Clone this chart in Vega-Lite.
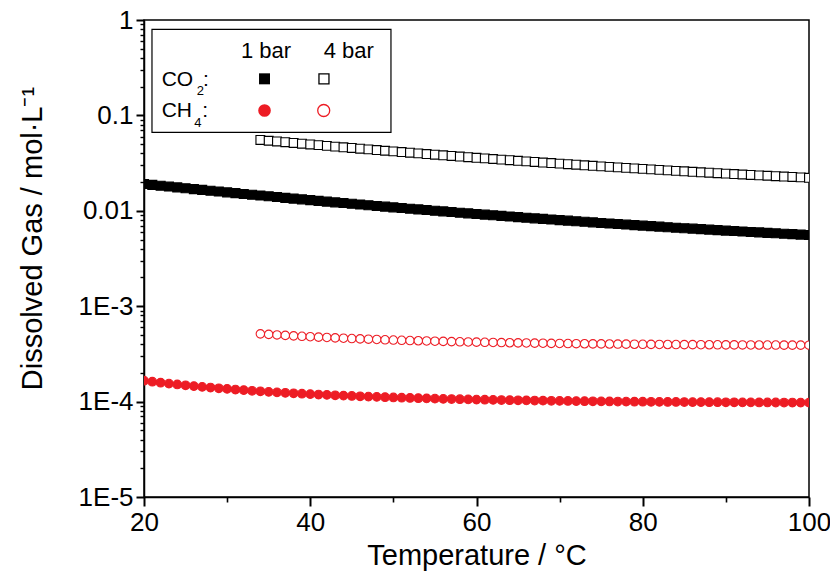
{
  "$schema": "https://vega.github.io/schema/vega-lite/v6.json",
  "width": 665,
  "height": 477,
  "autosize": {"type": "none"},
  "padding": {"left": 144, "top": 20, "right": 21, "bottom": 77},
  "background": "white",
  "config": {
    "font": "Liberation Sans",
    "view": {"stroke": "black", "strokeWidth": 1.5},
    "axis": {
      "grid": false,
      "domainColor": "black",
      "domainWidth": 1.5,
      "labelColor": "black",
      "labelFont": "Liberation Sans",
      "labelFontSize": 26,
      "labelOverlap": false,
      "labelFlush": false,
      "titleColor": "black",
      "titleFont": "Liberation Sans",
      "titleFontSize": 29,
      "titleFontWeight": "normal"
    }
  },
  "resolve": {"axis": {"x": "independent", "y": "independent"}},
  "datasets": {
    "solubility": [
      {"T": 20, "CO2_1bar": 0.01910, "CH4_1bar": 1.656e-4},
      {"T": 21, "CO2_1bar": 0.01870, "CH4_1bar": 1.616e-4},
      {"T": 22, "CO2_1bar": 0.01832, "CH4_1bar": 1.579e-4},
      {"T": 23, "CO2_1bar": 0.01795, "CH4_1bar": 1.545e-4},
      {"T": 24, "CO2_1bar": 0.01759, "CH4_1bar": 1.513e-4},
      {"T": 25, "CO2_1bar": 0.01724, "CH4_1bar": 1.483e-4},
      {"T": 26, "CO2_1bar": 0.01689, "CH4_1bar": 1.454e-4},
      {"T": 27, "CO2_1bar": 0.01656, "CH4_1bar": 1.428e-4},
      {"T": 28, "CO2_1bar": 0.01624, "CH4_1bar": 1.403e-4},
      {"T": 29, "CO2_1bar": 0.01592, "CH4_1bar": 1.380e-4},
      {"T": 30, "CO2_1bar": 0.01561, "CH4_1bar": 1.358e-4},
      {"T": 31, "CO2_1bar": 0.01531, "CH4_1bar": 1.337e-4},
      {"T": 32, "CO2_1bar": 0.01502, "CH4_1bar": 1.318e-4},
      {"T": 33, "CO2_1bar": 0.01474, "CH4_1bar": 1.299e-4},
      {"T": 34, "CO2_1bar": 0.01446, "CH4_1bar": 1.282e-4, "CO2_4bar": 0.05524, "CH4_4bar": 5.128e-4},
      {"T": 35, "CO2_1bar": 0.01419, "CH4_1bar": 1.266e-4, "CO2_4bar": 0.05424, "CH4_4bar": 5.064e-4},
      {"T": 36, "CO2_1bar": 0.01393, "CH4_1bar": 1.250e-4, "CO2_4bar": 0.05328, "CH4_4bar": 5.000e-4},
      {"T": 37, "CO2_1bar": 0.01367, "CH4_1bar": 1.236e-4, "CO2_4bar": 0.05232, "CH4_4bar": 4.944e-4},
      {"T": 38, "CO2_1bar": 0.01342, "CH4_1bar": 1.222e-4, "CO2_4bar": 0.05140, "CH4_4bar": 4.888e-4},
      {"T": 39, "CO2_1bar": 0.01318, "CH4_1bar": 1.209e-4, "CO2_4bar": 0.05051, "CH4_4bar": 4.836e-4},
      {"T": 40, "CO2_1bar": 0.01294, "CH4_1bar": 1.197e-4, "CO2_4bar": 0.04962, "CH4_4bar": 4.788e-4},
      {"T": 41, "CO2_1bar": 0.01271, "CH4_1bar": 1.185e-4, "CO2_4bar": 0.04877, "CH4_4bar": 4.740e-4},
      {"T": 42, "CO2_1bar": 0.01248, "CH4_1bar": 1.175e-4, "CO2_4bar": 0.04791, "CH4_4bar": 4.700e-4},
      {"T": 43, "CO2_1bar": 0.01226, "CH4_1bar": 1.164e-4, "CO2_4bar": 0.04710, "CH4_4bar": 4.656e-4},
      {"T": 44, "CO2_1bar": 0.01205, "CH4_1bar": 1.154e-4, "CO2_4bar": 0.04632, "CH4_4bar": 4.616e-4},
      {"T": 45, "CO2_1bar": 0.01184, "CH4_1bar": 1.145e-4, "CO2_4bar": 0.04555, "CH4_4bar": 4.580e-4},
      {"T": 46, "CO2_1bar": 0.01164, "CH4_1bar": 1.136e-4, "CO2_4bar": 0.04480, "CH4_4bar": 4.544e-4},
      {"T": 47, "CO2_1bar": 0.01144, "CH4_1bar": 1.128e-4, "CO2_4bar": 0.04407, "CH4_4bar": 4.512e-4},
      {"T": 48, "CO2_1bar": 0.01124, "CH4_1bar": 1.120e-4, "CO2_4bar": 0.04332, "CH4_4bar": 4.480e-4},
      {"T": 49, "CO2_1bar": 0.01105, "CH4_1bar": 1.112e-4, "CO2_4bar": 0.04261, "CH4_4bar": 4.448e-4},
      {"T": 50, "CO2_1bar": 0.01087, "CH4_1bar": 1.105e-4, "CO2_4bar": 0.04195, "CH4_4bar": 4.420e-4},
      {"T": 51, "CO2_1bar": 0.01069, "CH4_1bar": 1.098e-4, "CO2_4bar": 0.04127, "CH4_4bar": 4.392e-4},
      {"T": 52, "CO2_1bar": 0.01052, "CH4_1bar": 1.092e-4, "CO2_4bar": 0.04065, "CH4_4bar": 4.368e-4},
      {"T": 53, "CO2_1bar": 0.01034, "CH4_1bar": 1.086e-4, "CO2_4bar": 0.03997, "CH4_4bar": 4.344e-4},
      {"T": 54, "CO2_1bar": 0.01018, "CH4_1bar": 1.080e-4, "CO2_4bar": 0.03938, "CH4_4bar": 4.320e-4},
      {"T": 55, "CO2_1bar": 0.01001, "CH4_1bar": 1.074e-4, "CO2_4bar": 0.03875, "CH4_4bar": 4.296e-4},
      {"T": 56, "CO2_1bar": 0.009855, "CH4_1bar": 1.069e-4, "CO2_4bar": 0.03817, "CH4_4bar": 4.276e-4},
      {"T": 57, "CO2_1bar": 0.009700, "CH4_1bar": 1.064e-4, "CO2_4bar": 0.03760, "CH4_4bar": 4.256e-4},
      {"T": 58, "CO2_1bar": 0.009549, "CH4_1bar": 1.059e-4, "CO2_4bar": 0.03703, "CH4_4bar": 4.236e-4},
      {"T": 59, "CO2_1bar": 0.009401, "CH4_1bar": 1.055e-4, "CO2_4bar": 0.03649, "CH4_4bar": 4.220e-4},
      {"T": 60, "CO2_1bar": 0.009257, "CH4_1bar": 1.050e-4, "CO2_4bar": 0.03595, "CH4_4bar": 4.200e-4},
      {"T": 61, "CO2_1bar": 0.009116, "CH4_1bar": 1.046e-4, "CO2_4bar": 0.03542, "CH4_4bar": 4.184e-4},
      {"T": 62, "CO2_1bar": 0.008979, "CH4_1bar": 1.042e-4, "CO2_4bar": 0.03491, "CH4_4bar": 4.168e-4},
      {"T": 63, "CO2_1bar": 0.008845, "CH4_1bar": 1.039e-4, "CO2_4bar": 0.03441, "CH4_4bar": 4.156e-4},
      {"T": 64, "CO2_1bar": 0.008714, "CH4_1bar": 1.035e-4, "CO2_4bar": 0.03392, "CH4_4bar": 4.140e-4},
      {"T": 65, "CO2_1bar": 0.008586, "CH4_1bar": 1.032e-4, "CO2_4bar": 0.03344, "CH4_4bar": 4.128e-4},
      {"T": 66, "CO2_1bar": 0.008461, "CH4_1bar": 1.029e-4, "CO2_4bar": 0.03298, "CH4_4bar": 4.116e-4},
      {"T": 67, "CO2_1bar": 0.008339, "CH4_1bar": 1.026e-4, "CO2_4bar": 0.03252, "CH4_4bar": 4.104e-4},
      {"T": 68, "CO2_1bar": 0.008220, "CH4_1bar": 1.023e-4, "CO2_4bar": 0.03207, "CH4_4bar": 4.092e-4},
      {"T": 69, "CO2_1bar": 0.008104, "CH4_1bar": 1.020e-4, "CO2_4bar": 0.03165, "CH4_4bar": 4.080e-4},
      {"T": 70, "CO2_1bar": 0.007991, "CH4_1bar": 1.017e-4, "CO2_4bar": 0.03122, "CH4_4bar": 4.068e-4},
      {"T": 71, "CO2_1bar": 0.007880, "CH4_1bar": 1.015e-4, "CO2_4bar": 0.03081, "CH4_4bar": 4.060e-4},
      {"T": 72, "CO2_1bar": 0.007772, "CH4_1bar": 1.012e-4, "CO2_4bar": 0.03040, "CH4_4bar": 4.048e-4},
      {"T": 73, "CO2_1bar": 0.007666, "CH4_1bar": 1.010e-4, "CO2_4bar": 0.03001, "CH4_4bar": 4.040e-4},
      {"T": 74, "CO2_1bar": 0.007563, "CH4_1bar": 1.008e-4, "CO2_4bar": 0.02962, "CH4_4bar": 4.032e-4},
      {"T": 75, "CO2_1bar": 0.007462, "CH4_1bar": 1.006e-4, "CO2_4bar": 0.02924, "CH4_4bar": 4.024e-4},
      {"T": 76, "CO2_1bar": 0.007364, "CH4_1bar": 1.004e-4, "CO2_4bar": 0.02888, "CH4_4bar": 4.016e-4},
      {"T": 77, "CO2_1bar": 0.007267, "CH4_1bar": 1.002e-4, "CO2_4bar": 0.02852, "CH4_4bar": 4.008e-4},
      {"T": 78, "CO2_1bar": 0.007173, "CH4_1bar": 1.000e-4, "CO2_4bar": 0.02817, "CH4_4bar": 4.000e-4},
      {"T": 79, "CO2_1bar": 0.007082, "CH4_1bar": 9.982e-5, "CO2_4bar": 0.02783, "CH4_4bar": 3.993e-4},
      {"T": 80, "CO2_1bar": 0.006992, "CH4_1bar": 9.966e-5, "CO2_4bar": 0.02749, "CH4_4bar": 3.986e-4},
      {"T": 81, "CO2_1bar": 0.006904, "CH4_1bar": 9.950e-5, "CO2_4bar": 0.02716, "CH4_4bar": 3.980e-4},
      {"T": 82, "CO2_1bar": 0.006819, "CH4_1bar": 9.935e-5, "CO2_4bar": 0.02684, "CH4_4bar": 3.974e-4},
      {"T": 83, "CO2_1bar": 0.006735, "CH4_1bar": 9.921e-5, "CO2_4bar": 0.02653, "CH4_4bar": 3.968e-4},
      {"T": 84, "CO2_1bar": 0.006654, "CH4_1bar": 9.907e-5, "CO2_4bar": 0.02622, "CH4_4bar": 3.963e-4},
      {"T": 85, "CO2_1bar": 0.006574, "CH4_1bar": 9.894e-5, "CO2_4bar": 0.02593, "CH4_4bar": 3.958e-4},
      {"T": 86, "CO2_1bar": 0.006496, "CH4_1bar": 9.882e-5, "CO2_4bar": 0.02563, "CH4_4bar": 3.953e-4},
      {"T": 87, "CO2_1bar": 0.006420, "CH4_1bar": 9.870e-5, "CO2_4bar": 0.02535, "CH4_4bar": 3.948e-4},
      {"T": 88, "CO2_1bar": 0.006345, "CH4_1bar": 9.859e-5, "CO2_4bar": 0.02507, "CH4_4bar": 3.944e-4},
      {"T": 89, "CO2_1bar": 0.006273, "CH4_1bar": 9.848e-5, "CO2_4bar": 0.02480, "CH4_4bar": 3.939e-4},
      {"T": 90, "CO2_1bar": 0.006202, "CH4_1bar": 9.837e-5, "CO2_4bar": 0.02453, "CH4_4bar": 3.935e-4},
      {"T": 91, "CO2_1bar": 0.006132, "CH4_1bar": 9.828e-5, "CO2_4bar": 0.02427, "CH4_4bar": 3.931e-4},
      {"T": 92, "CO2_1bar": 0.006065, "CH4_1bar": 9.818e-5, "CO2_4bar": 0.02402, "CH4_4bar": 3.927e-4},
      {"T": 93, "CO2_1bar": 0.005998, "CH4_1bar": 9.809e-5, "CO2_4bar": 0.02377, "CH4_4bar": 3.924e-4},
      {"T": 94, "CO2_1bar": 0.005934, "CH4_1bar": 9.801e-5, "CO2_4bar": 0.02353, "CH4_4bar": 3.920e-4},
      {"T": 95, "CO2_1bar": 0.005871, "CH4_1bar": 9.792e-5, "CO2_4bar": 0.02330, "CH4_4bar": 3.917e-4},
      {"T": 96, "CO2_1bar": 0.005809, "CH4_1bar": 9.785e-5, "CO2_4bar": 0.02306, "CH4_4bar": 3.914e-4},
      {"T": 97, "CO2_1bar": 0.005749, "CH4_1bar": 9.777e-5, "CO2_4bar": 0.02284, "CH4_4bar": 3.911e-4},
      {"T": 98, "CO2_1bar": 0.005690, "CH4_1bar": 9.770e-5, "CO2_4bar": 0.02262, "CH4_4bar": 3.908e-4},
      {"T": 99, "CO2_1bar": 0.005632, "CH4_1bar": 9.763e-5, "CO2_4bar": 0.02240, "CH4_4bar": 3.905e-4},
      {"T": 100, "CO2_1bar": 0.005576, "CH4_1bar": 9.757e-5, "CO2_4bar": 0.02219, "CH4_4bar": 3.903e-4}
    ],
    "anchor": [{}]
  },
  "layer": [
    {
      "data": {"name": "solubility"},
      "transform": [
        {"fold": ["CO2_1bar", "CO2_4bar", "CH4_1bar", "CH4_4bar"], "as": ["series", "conc"]},
        {"filter": "isValid(datum.conc)"}
      ],
      "mark": {"type": "point", "opacity": 1, "strokeWidth": 1.1, "clip": true},
      "encoding": {
        "x": {
          "field": "T",
          "type": "quantitative",
          "scale": {"domain": [20, 100], "nice": false, "zero": false},
          "axis": {
            "orient": "bottom",
            "title": "Temperature / °C",
            "values": [20, 40, 60, 80, 100],
            "ticks": true,
            "tickColor": "#000000",
            "tickWidth": 2,
            "tickSize": 9,
            "labelPadding": 3,
            "titleBaseline": "alphabetic",
            "titleY": 67
          }
        },
        "y": {
          "field": "conc",
          "type": "quantitative",
          "scale": {"type": "log", "domain": [1e-5, 1], "nice": false},
          "axis": {
            "orient": "left",
            "title": "Dissolved Gas / mol·L⁻¹",
            "values": [1e-5, 1e-4, 1e-3, 0.01, 0.1, 1],
            "labelExpr": "datum.value >= 0.01 ? format(datum.value, '') : '1E' + round(log(datum.value) / LN10)",
            "ticks": true,
            "tickColor": "#000000",
            "tickWidth": 2,
            "tickSize": 8,
            "labelPadding": 3,
            "titleBaseline": "alphabetic",
            "titleX": -103,
            "titleY": 218
          }
        },
        "shape": {
          "field": "series",
          "type": "nominal",
          "scale": {"domain": ["CO2_1bar", "CO2_4bar", "CH4_1bar", "CH4_4bar"], "range": ["square", "square", "circle", "circle"]},
          "legend": null
        },
        "fill": {
          "field": "series",
          "type": "nominal",
          "scale": {"domain": ["CO2_1bar", "CO2_4bar", "CH4_1bar", "CH4_4bar"], "range": ["#000000", "#ffffff", "#ed1c24", "#ffffff"]},
          "legend": null
        },
        "stroke": {
          "field": "series",
          "type": "nominal",
          "scale": {"domain": ["CO2_1bar", "CO2_4bar", "CH4_1bar", "CH4_4bar"], "range": ["#000000", "#000000", "#ed1c24", "#ed1c24"]},
          "legend": null
        },
        "size": {
          "field": "series",
          "type": "nominal",
          "scale": {"domain": ["CO2_1bar", "CO2_4bar", "CH4_1bar", "CH4_4bar"], "range": [81, 72, 110, 78]},
          "legend": null
        }
      }
    },
    {
      "data": {"name": "anchor"},
      "mark": {"type": "rect", "fill": "white", "stroke": "black", "strokeWidth": 1.2},
      "encoding": {
        "x": {
          "datum": 20.96,
          "type": "quantitative",
          "axis": {"orient": "bottom", "values": [30, 50, 70, 90], "ticks": true, "tickColor": "#000000", "tickWidth": 1.6, "tickSize": 5, "labels": false, "domain": false, "title": null}
        },
        "x2": {"datum": 49.71},
        "y": {
          "datum": 0.799,
          "type": "quantitative",
          "axis": {
            "orient": "left",
            "values": [2e-5, 3e-5, 4e-5, 5e-5, 6e-5, 7e-5, 8e-5, 9e-5,
                       2e-4, 3e-4, 4e-4, 5e-4, 6e-4, 7e-4, 8e-4, 9e-4,
                       2e-3, 3e-3, 4e-3, 5e-3, 6e-3, 7e-3, 8e-3, 9e-3,
                       0.02, 0.03, 0.04, 0.05, 0.06, 0.07, 0.08, 0.09,
                       0.2, 0.3, 0.4, 0.5, 0.6, 0.7, 0.8, 0.9],
            "ticks": true,
            "tickColor": "#000000",
            "tickWidth": 1.4,
            "tickSize": 4,
            "labels": false,
            "domain": false,
            "title": null
          }
        },
        "y2": {"datum": 0.0665}
      }
    },
    {
      "data": {"name": "anchor"},
      "mark": {"type": "text", "text": "1 bar", "fontSize": 22, "align": "center", "baseline": "alphabetic", "color": "black"},
      "encoding": {
        "x": {"datum": 34.68, "type": "quantitative", "axis": null},
        "y": {"datum": 0.3967, "type": "quantitative", "axis": null}
      }
    },
    {
      "data": {"name": "anchor"},
      "mark": {"type": "text", "text": "4 bar", "fontSize": 22, "align": "center", "baseline": "alphabetic", "color": "black"},
      "encoding": {
        "x": {"datum": 44.64, "type": "quantitative", "axis": null},
        "y": {"datum": 0.3967, "type": "quantitative", "axis": null}
      }
    },
    {
      "data": {"name": "anchor"},
      "mark": {"type": "text", "text": "CO", "fontSize": 21, "align": "left", "baseline": "alphabetic", "color": "black"},
      "encoding": {
        "x": {"datum": 22.13, "type": "quantitative", "axis": null},
        "y": {"datum": 0.2033, "type": "quantitative", "axis": null}
      }
    },
    {
      "data": {"name": "anchor"},
      "mark": {"type": "text", "text": "2", "fontSize": 13, "align": "left", "baseline": "alphabetic", "color": "black"},
      "encoding": {
        "x": {"datum": 26.34, "type": "quantitative", "axis": null},
        "y": {"datum": 0.1636, "type": "quantitative", "axis": null}
      }
    },
    {
      "data": {"name": "anchor"},
      "mark": {"type": "text", "text": ":", "fontSize": 21, "align": "left", "baseline": "alphabetic", "color": "black"},
      "encoding": {
        "x": {"datum": 27.1, "type": "quantitative", "axis": null},
        "y": {"datum": 0.2033, "type": "quantitative", "axis": null}
      }
    },
    {
      "data": {"name": "anchor"},
      "mark": {"type": "text", "text": "CH", "fontSize": 21, "align": "left", "baseline": "alphabetic", "color": "black"},
      "encoding": {
        "x": {"datum": 22.13, "type": "quantitative", "axis": null},
        "y": {"datum": 0.09552, "type": "quantitative", "axis": null}
      }
    },
    {
      "data": {"name": "anchor"},
      "mark": {"type": "text", "text": "4", "fontSize": 13, "align": "left", "baseline": "alphabetic", "color": "black"},
      "encoding": {
        "x": {"datum": 26.05, "type": "quantitative", "axis": null},
        "y": {"datum": 0.07505, "type": "quantitative", "axis": null}
      }
    },
    {
      "data": {"name": "anchor"},
      "mark": {"type": "text", "text": ":", "fontSize": 21, "align": "left", "baseline": "alphabetic", "color": "black"},
      "encoding": {
        "x": {"datum": 27.0, "type": "quantitative", "axis": null},
        "y": {"datum": 0.09552, "type": "quantitative", "axis": null}
      }
    },
    {
      "data": {"name": "anchor"},
      "mark": {"type": "point", "shape": "square", "filled": true, "color": "black", "opacity": 1, "size": 121},
      "encoding": {
        "x": {"datum": 34.5, "type": "quantitative", "axis": null},
        "y": {"datum": 0.2418, "type": "quantitative", "axis": null}
      }
    },
    {
      "data": {"name": "anchor"},
      "mark": {"type": "point", "shape": "square", "filled": false, "fill": "white", "stroke": "black", "strokeWidth": 1.3, "opacity": 1, "size": 100},
      "encoding": {
        "x": {"datum": 41.65, "type": "quantitative", "axis": null},
        "y": {"datum": 0.2418, "type": "quantitative", "axis": null}
      }
    },
    {
      "data": {"name": "anchor"},
      "mark": {"type": "point", "shape": "circle", "filled": true, "color": "#ed1c24", "opacity": 1, "size": 160},
      "encoding": {
        "x": {"datum": 34.5, "type": "quantitative", "axis": null},
        "y": {"datum": 0.1125, "type": "quantitative", "axis": null}
      }
    },
    {
      "data": {"name": "anchor"},
      "mark": {"type": "point", "shape": "circle", "filled": false, "fill": "white", "stroke": "#ed1c24", "strokeWidth": 1.3, "opacity": 1, "size": 144},
      "encoding": {
        "x": {"datum": 41.62, "type": "quantitative", "axis": null},
        "y": {"datum": 0.1125, "type": "quantitative", "axis": null}
      }
    }
  ]
}
